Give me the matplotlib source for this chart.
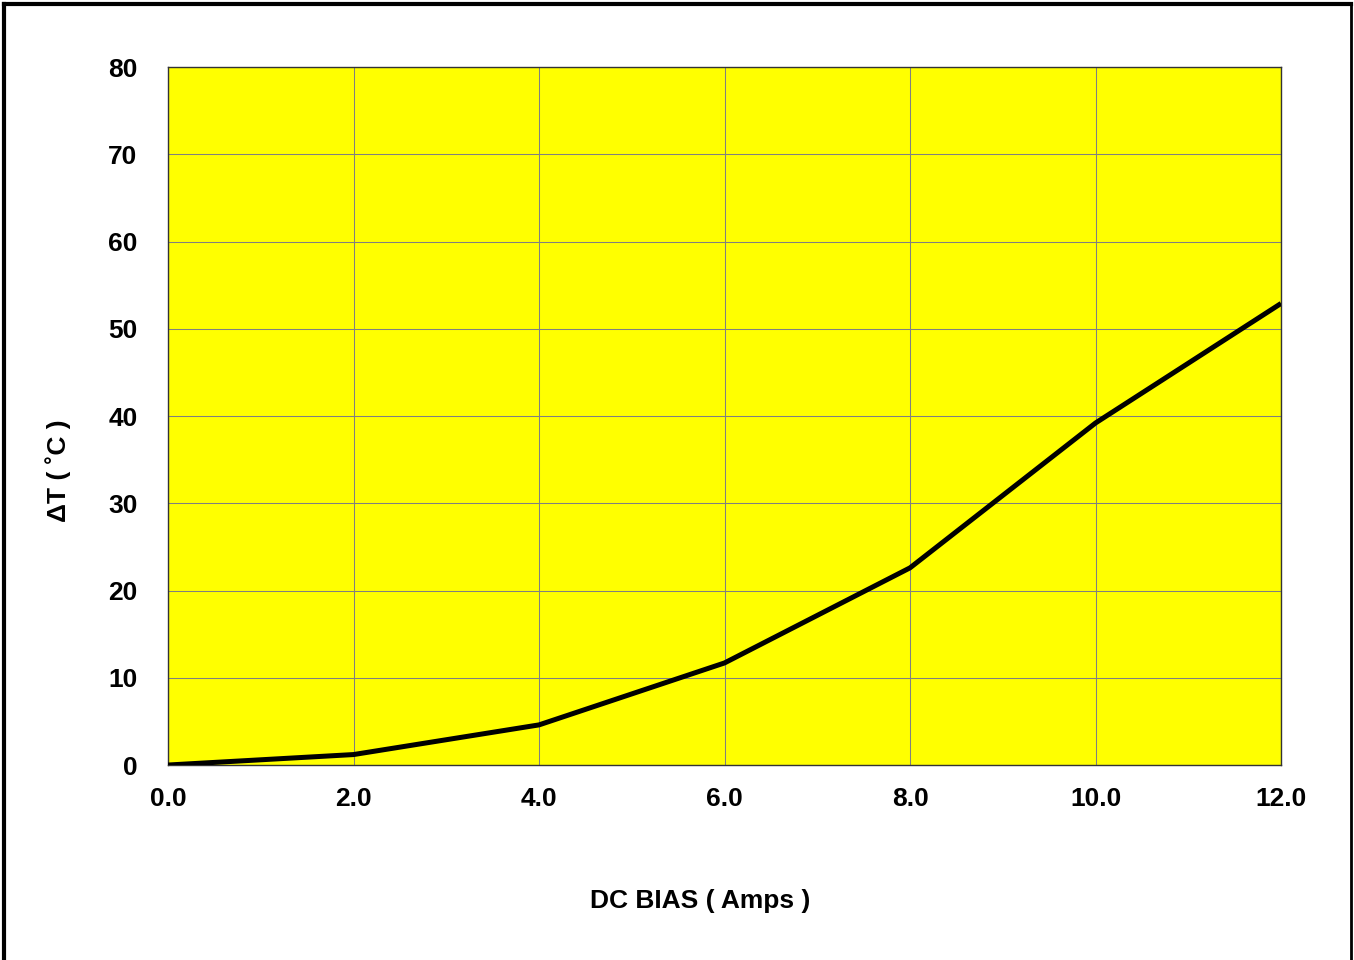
import matplotlib.pyplot as plt
from matplotlib.lines import Line2D

plt.rcParams['font.family'] = ['Liberation Sans', 'DejaVu Sans']
plt.rcParams['font.weight'] = 'bold'

bias_amps = [0.0, 2.0, 4.0, 6.0, 8.0, 10.0, 12.0]
delta_t = [0.0, 1.2, 4.6, 11.7, 22.6, 39.2, 52.9]
x_ticks = [0, 2, 4, 6, 8, 10, 12]
x_labels = ["0.0", "2.0", "4.0", "6.0", "8.0", "10.0", "12.0"]
y_ticks = [0, 10, 20, 30, 40, 50, 60, 70, 80]

fig = plt.figure(figsize=(13.54, 9.6), dpi=100)
ax = fig.add_axes([0.1241, 0.2031, 0.8220, 0.7271])
ax.set_facecolor('#ffff00')

ax.plot(bias_amps, delta_t, color='black', linewidth=3.6, solid_capstyle='butt', zorder=3)

ax.set_xlim(0, 12)
ax.set_ylim(0, 80)
ax.set_xticks(x_ticks)
ax.set_xticklabels(x_labels)
ax.set_yticks(y_ticks)
ax.tick_params(axis='both', length=0, labelsize=19)
ax.tick_params(axis='y', pad=22)
ax.tick_params(axis='x', pad=16)
for lbl in ax.get_xticklabels() + ax.get_yticklabels():
    lbl.set_fontweight('bold')

ax.grid(True, color='#808080', linewidth=0.75)
ax.set_axisbelow(True)
for sp in ax.spines.values():
    sp.set_color('#333333')
    sp.set_linewidth(1.0)

fig.text(0.517, 0.061, "DC BIAS ( Amps )", ha='center', va='center', fontsize=19, fontweight='bold')
fig.text(0.043, 0.51, "ΔT ( ˚C )", ha='center', va='center', rotation=90, fontsize=19, fontweight='bold')

# outer frame (left, top, right)
fig.add_artist(Line2D([0.0030, 0.0030], [0.0, 0.9960], transform=fig.transFigure, color='black', linewidth=3))
fig.add_artist(Line2D([0.0030, 0.9975], [0.9960, 0.9960], transform=fig.transFigure, color='black', linewidth=3))
fig.add_artist(Line2D([0.9975, 0.9975], [0.0, 0.9960], transform=fig.transFigure, color='black', linewidth=2))

fig.savefig('out.png', dpi=100)
